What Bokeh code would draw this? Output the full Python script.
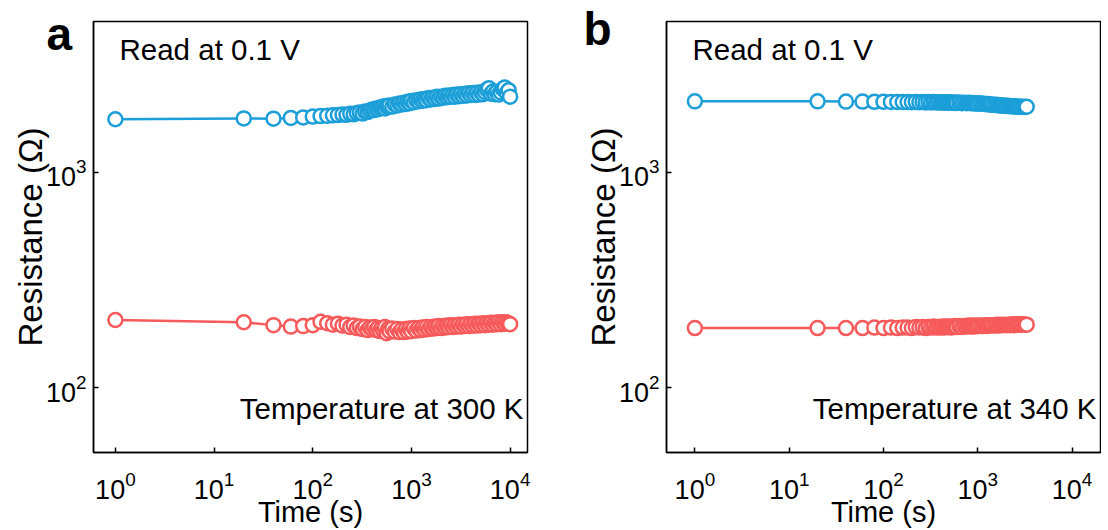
from bokeh.plotting import figure
from bokeh.models import Range1d, Label, ColumnDataSource
from bokeh.layouts import row
from bokeh.embed import file_html
from bokeh.resources import INLINE

FONT = "Liberation Sans"
BLUE = "#1c9fd8"
RED = "#f65a5a"

# ---------------- Panel a (300 K) ----------------
T_A = [1, 20, 40, 60, 80, 100, 120, 140, 160, 180,
       200, 220, 240, 260, 280, 300, 320, 340, 360, 380, 400, 420, 440, 460, 480, 500, 520, 540, 560, 580, 600,
       640, 680, 720, 760, 800, 840, 880, 920, 960, 1000,
       1060, 1120, 1180, 1240, 1300, 1360, 1420,
       1500, 1580, 1660, 1740, 1820, 1900,
       2000, 2100, 2200, 2300, 2400,
       2520, 2640, 2760, 2900, 3040, 3180,
       3340, 3500, 3660, 3840, 4020,
       4220, 4420, 4620, 4840, 5080, 5320, 5560, 5820, 6100, 6400, 6700, 7000, 7340, 7680, 8040, 8420, 8820, 9240, 9660, 10000]

HRS_A = [1760, 1775, 1770, 1785, 1795, 1810, 1820, 1825, 1835, 1840,
         1850, 1845, 1865, 1855, 1880, 1890, 1870, 1910, 1900, 1930, 1955, 1940, 1975, 1960, 1995, 1985, 2015, 1975, 2025, 2005, 2040,
         2015, 2060, 2040, 2080, 2060, 2100, 2070, 2120, 2090, 2140,
         2110, 2155, 2130, 2175, 2145, 2185, 2155,
         2205, 2175, 2215, 2185, 2235, 2195,
         2240, 2215, 2260, 2225, 2270,
         2235, 2280, 2240, 2290, 2250, 2300,
         2260, 2310, 2270, 2320, 2280,
         2330, 2280, 2335, 2290, 2345, 2300, 2355, 2420, 2450, 2310, 2365, 2300, 2355, 2290, 2345, 2430, 2470, 2330, 2400, 2240]

LRS_A = [206, 201, 195, 192, 193, 195, 202, 199, 196, 198,
         194, 196, 191, 194, 189, 192, 187, 191, 185, 190, 187, 191, 185, 189, 183, 189, 184, 191, 179, 187, 183,
         188, 182, 187, 181, 186, 181, 187, 182, 188, 183,
         189, 184, 189, 185, 190, 186, 191,
         187, 191, 188, 192, 189, 193,
         189, 193, 190, 194, 191,
         195, 191, 195, 192, 196, 192,
         196, 193, 197, 193, 197,
         194, 198, 194, 198, 195, 199, 195, 199, 196, 200, 196, 200, 197, 201, 197, 201, 198, 201, 198, 197]

# ---------------- Panel b (340 K) ----------------
T_B = [1, 20, 40, 60, 80, 100, 120, 140, 160, 180,
       200, 220, 240, 260, 280, 300, 320, 340, 360, 380, 400, 420, 440, 460, 480, 500, 520, 540, 560, 580, 600,
       640, 680, 720, 760, 800, 840, 880, 920, 960, 1000,
       1060, 1120, 1180, 1240, 1300, 1360, 1420,
       1500, 1580, 1660, 1740, 1820, 1900,
       2000, 2100, 2200, 2300, 2400,
       2520, 2640, 2760, 2900, 3040, 3180, 3300]

HRS_B = [2130, 2130, 2125, 2125, 2120, 2120, 2118, 2116, 2115, 2114,
         2112, 2118, 2108, 2116, 2106, 2115, 2105, 2114, 2104, 2112, 2102, 2112, 2100, 2110, 2098, 2108, 2096, 2106, 2095, 2104, 2093,
         2102, 2090, 2100, 2088, 2097, 2085, 2094, 2082, 2090, 2078,
         2085, 2072, 2078, 2064, 2070, 2056, 2062,
         2048, 2052, 2040, 2044, 2032, 2036,
         2026, 2030, 2020, 2024, 2016,
         2020, 2012, 2016, 2008, 2012, 2005, 2010]

LRS_B = [189, 189, 189, 189, 190, 189, 190, 189, 190, 190,
         189, 191, 190, 191, 189, 191, 190, 192, 190, 191, 190, 192, 190, 192, 191, 192, 190, 192, 191, 193, 191,
         193, 191, 193, 192, 194, 192, 194, 192, 194, 193,
         194, 193, 195, 193, 195, 194, 195,
         194, 196, 194, 196, 195, 196,
         195, 196, 195, 197, 195,
         197, 196, 197, 196, 197, 196, 196]

X_RANGE_A = (0.6, 15000)
X_RANGE_B = (0.5, 20000)
Y_RANGE = (50, 5000)

FRAME_H = 431


def make_panel(t, hrs, lrs, xr, temp_text, fw, bl, br):
    p = figure(x_axis_type="log", y_axis_type="log",
               frame_width=fw, frame_height=FRAME_H,
               x_range=Range1d(*xr), y_range=Range1d(*Y_RANGE),
               output_backend="svg", toolbar_location=None,
               min_border_left=bl, min_border_right=br,
               min_border_top=21, min_border_bottom=56,
               background_fill_color="white", border_fill_color="white")
    p.xgrid.visible = False
    p.ygrid.visible = False
    p.outline_line_color = "black"
    p.outline_line_width = 1.5
    p.outline_line_alpha = 1.0

    for ax in (p.xaxis, p.yaxis):
        ax.axis_line_width = 1.5
        ax.axis_line_color = "black"
        ax.major_tick_in = 5
        ax.major_tick_out = 0
        ax.major_tick_line_width = 1.5
        ax.major_tick_line_color = "black"
        ax.minor_tick_line_color = None
        ax.major_label_text_font = FONT
        ax.major_label_text_font_size = "27px"
        ax.major_label_text_color = "black"
        ax.axis_label_text_font = FONT
        ax.axis_label_text_font_style = "normal"
        ax.axis_label_text_color = "black"
    p.xaxis.axis_label = "Time (s)"
    p.yaxis.axis_label = "Resistance (Ω)"
    p.xaxis.axis_label_text_font_size = "29px"
    p.yaxis.axis_label_text_font_size = "33px"
    p.xaxis.major_label_standoff = 14
    p.xaxis.axis_label_standoff = -6
    p.yaxis.major_label_standoff = 3
    p.yaxis.axis_label_standoff = -6

    for vals, col in ((hrs, BLUE), (lrs, RED)):
        src = ColumnDataSource(dict(t=t, r=vals))
        p.line("t", "r", source=src, line_color=col, line_width=2.5)
        p.scatter("t", "r", source=src, marker="circle", size=14,
                  fill_color="white", line_color=col, line_width=2.5)

    p.add_layout(Label(x=26, y=FRAME_H - 28, x_units="screen", y_units="screen",
                       text="Read at 0.1 V", text_font=FONT, text_font_size="29.5px",
                       text_color="black", text_baseline="alphabetic", text_align="left"))
    p.add_layout(Label(x=fw - 4, y=44, x_units="screen", y_units="screen",
                       text=temp_text, text_font=FONT, text_font_size="29.5px",
                       text_color="black", text_baseline="alphabetic", text_align="right"))
    return p


def letter(text, cx, cy):
    # panel letter; lives in a side panel so it is not clipped to the frame
    return Label(x=cx, y=cy, x_units="canvas", y_units="canvas",
                 text=text, text_font=FONT, text_font_size="46px",
                 text_font_style="bold", text_color="black",
                 text_baseline="alphabetic", text_align="left")


pa = make_panel(T_A, HRS_A, LRS_A, X_RANGE_A, "Temperature at 300 K",
                fw=434, bl=93, br=26)
pb = make_panel(T_B, HRS_B, LRS_B, X_RANGE_B, "Temperature at 340 K",
                fw=434, bl=106, br=1)
pa.add_layout(letter("a", 46, 33), "right")
pb.add_layout(letter("b", 30, 28), "left")

layout = row(pa, pb)
open("out.html", "w").write(file_html(layout, INLINE))
